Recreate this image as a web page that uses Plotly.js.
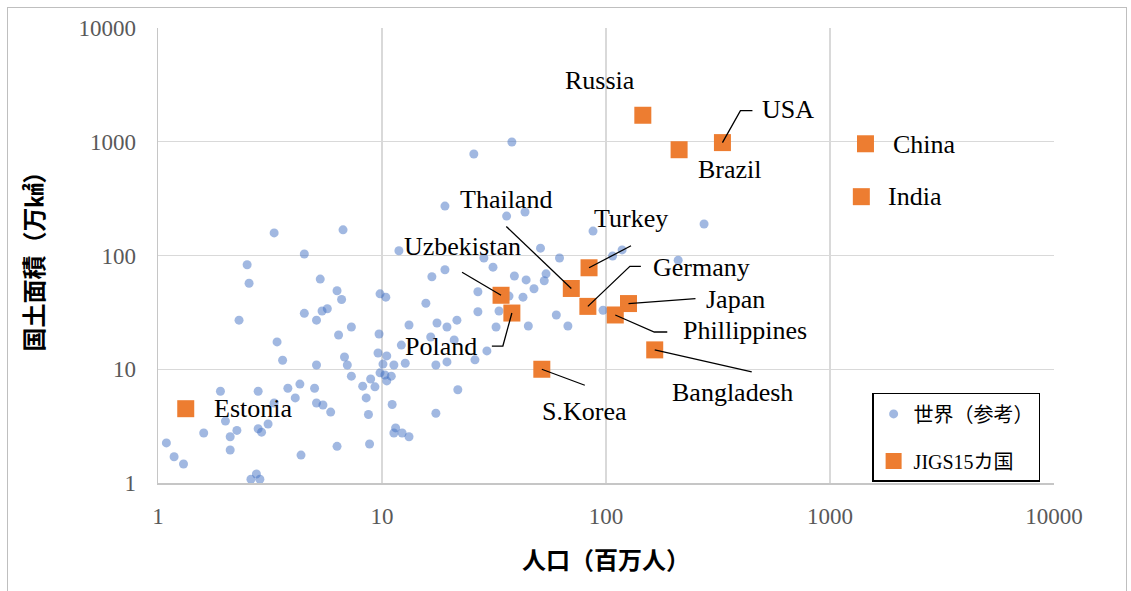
<!DOCTYPE html>
<html><head><meta charset="utf-8">
<script src="https://cdn.plot.ly/plotly-3.0.1.min.js"></script>
<style>
html,body{margin:0;padding:0;background:#fff;overflow:hidden}
#chart{position:absolute;left:0;top:0;width:1131px;height:591px}
#frame{position:absolute;left:7px;top:7px;width:1120px;height:640px;border:1px solid #BFBFBF;box-sizing:border-box;pointer-events:none}
</style></head><body>
<div id="chart"></div><div id="frame"></div>
<script>
// ---- data ----
const worldPop = [3.3,6.7,4.5,2.5,2.55,5.3,6.3,6.6,9.8,10.4,11.9,4.5,2.3,5.1,5.4,5.7,3.4,3.6,5.1,6.4,7.3,9.7,6.8,7.0,9.6,10.5,10.1,11.3,7.3,8.2,8.9,9.3,9.8,10.3,10.5,11.0,8.5,8.7,11.1,8.8,6.3,4.35,3.8,4.3,5.0,4.1,5.1,5.45,5.9,2.8,1.9,3.3,2.0,3.1,2.25,2.8,2.9,2.1,1.6,2.1,1.09,1.18,1.3,2.6,2.75,2.85,5.7,11.5,12.7,17.4,19.5,21.8,17.4,11.3,12.3,13.2,15.7,26.8,33.3,60,13.2,17.6,19.5,21.6,32.3,45,67.6,97,16.5,21,29.4,26,12.2,38,25.7,19.1,36,43.5,87.5,51,62,28.5,31.3,19.1,16.7,39,44,47.7,53,54,26.8,36.9,42.6,118,107,210,274];
const worldArea = [158,168,103,83,57,62,49,41,46,43,110,31,27,27,32.5,34,17.4,12,10.9,20,23.5,20.4,12.8,10.9,13.9,13.1,11.1,10.9,8.7,7.1,8.2,7.0,9.3,8.9,7.9,8.7,5.6,4.0,4.9,2.2,2.1,1.76,6.8,7.4,6.8,5.6,5.05,4.85,4.2,6.4,6.4,5.05,3.5,3.3,2.9,3.0,2.8,2.55,2.75,1.95,2.25,1.7,1.47,1.08,1.2,1.08,0.99,3.05,11.3,10.9,11.6,6.6,4.1,2.75,2.75,2.55,38,32,32.5,30,24.5,25.5,23.5,27,23.5,24,24,33,19.2,18.1,14.5,12.1,16.3,995,780,272,222,241,164,116,95,95,79,75,65,66,61,51,60,69,48,44,43,112,99,91,189];

const jigsNames = ["Russia","USA","Brazil","China","India","Estonia","S.Korea","Uzbekistan","Poland","Thailand","Turkey","Germany","Japan","Phillippines","Bangladesh"];
const jigsPop  = [146,331,212,1440,1380,1.33,51.7,34,38,70,84,83,126,110,165];
const jigsArea = [1710,983,851,960,329,4.5,10,44.7,31.2,51.3,78,35.7,37.8,30,14.8];

const tickVals = [1,10,100,1000,10000];
const tickText = ["1","10","100","1000","10000"];
const seriesNames = ["世界（参考）","JIGS15カ国"];
const xTitle = "人口（百万人）";
const yTitle = "国土面積（万㎢）";

// ---- label placement (screen pixel offsets from the marker: text centre and leader path) ----
const labelStyle = {
  "Russia":      {t:[-43,-35]},
  "USA":         {t:[66,-33], p:[[0,0],[18,-32],[30,-32]]},
  "Brazil":      {t:[51,20]},
  "China":       {t:[59,1]},
  "India":       {t:[54,0]},
  "Estonia":     {t:[67,0]},
  "S.Korea":     {t:[43,42], p:[[0,0],[43,16]]},
  "Uzbekistan":  {t:[-39,-49], p:[[-39,-23],[0,0]]},
  "Poland":      {t:[-71,33], p:[[0,0],[-9,33],[-20,33]]},
  "Thailand":    {t:[-65,-89], p:[[-65,-62],[0,0]]},
  "Turkey":      {t:[42,-49], p:[[42,-22],[0,0]]},
  "Germany":     {t:[114,-39], p:[[0,0],[42,-40],[53,-40]]},
  "Japan":       {t:[107,-4], p:[[0,0],[67,-5]]},
  "Phillippines":{t:[130,16], p:[[0,0],[39,17],[52,17]]},
  "Bangladesh":  {t:[78,43], p:[[0,0],[97,22]]}
};

const serif = "Liberation Serif, Noto Sans CJK JP, serif";
const annotations = [];
const shapes = [];
jigsNames.forEach((n,i)=>{
  const s = labelStyle[n];
  annotations.push({x:Math.log10(jigsPop[i]), y:Math.log10(jigsArea[i]), xref:'x', yref:'y', text:n, showarrow:false,
    xanchor:'center', yanchor:'middle', xshift:s.t[0], yshift:-s.t[1],
    font:{family:serif, size:26, color:'#000'}});
  if(s.p){
    const d = s.p.map((q,k)=>(k?'L':'M')+q[0]+','+(-q[1])).join(' ');
    shapes.push({type:'path', xref:'x', yref:'y', xsizemode:'pixel', ysizemode:'pixel',
      xanchor:jigsPop[i], yanchor:jigsArea[i], path:d, line:{color:'#000', width:1.3}, layer:'above'});
  }
});

const traces = [
  {type:'scatter', mode:'markers', name:seriesNames[0], x:worldPop, y:worldArea,
   legendgroup:'a', cliponaxis:false,
   marker:{symbol:'circle', size:9, color:'rgba(68,114,196,0.5)', line:{width:0}}},
  {type:'scatter', mode:'markers', name:seriesNames[1], x:jigsPop, y:jigsArea,
   legendgroup:'b', cliponaxis:false,
   marker:{symbol:'square', size:17, color:'#ED7D31', line:{width:0}}}
];

const axisCommon = {
  type:'log', range:[0,4], tickmode:'array', tickvals:tickVals, ticktext:tickText,
  showgrid:true, gridcolor:'#D9D9D9', gridwidth:1.3,
  showline:true, linecolor:'#C6C6C6', linewidth:1.5, ticks:'', zeroline:false,
  tickfont:{family:serif, size:23, color:'#595959'}, automargin:false
};

const layout = {
  width:1131, height:591,
  margin:{l:158, r:77, t:28, b:108},
  paper_bgcolor:'#fff', plot_bgcolor:'#fff',
  showlegend:true,
  xaxis:Object.assign({}, axisCommon, {ticklabelstandoff:12,
    title:{text:xTitle, standoff:24, font:{family:'Noto Sans CJK JP', size:24, color:'#000', weight:700}}}),
  yaxis:Object.assign({}, axisCommon, {ticklabelstandoff:16,
    title:{text:yTitle, standoff:28, font:{family:'Noto Sans CJK JP', size:24, color:'#000', weight:700}}}),
  legend:{x:0.797, y:0.198, xanchor:'left', yanchor:'top', bgcolor:'#fff',
    bordercolor:'#000', borderwidth:1.5, traceorder:'grouped', tracegroupgap:18,
    font:{family:serif, size:20, color:'#000'}},
  annotations:annotations, shapes:shapes
};

Plotly.newPlot('chart', traces, layout, {displayModeBar:false, staticPlot:true});
</script></body></html>
